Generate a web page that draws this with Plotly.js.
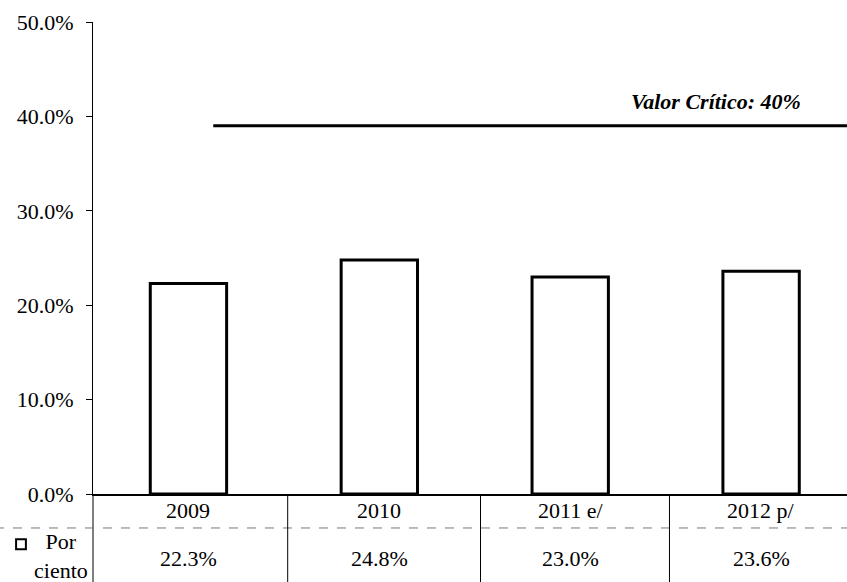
<!DOCTYPE html>
<html><head><meta charset="utf-8">
<script src="https://cdn.plot.ly/plotly-3.0.1.min.js"></script>
<style>html,body{margin:0;padding:0;background:#fff}#chart{width:847px;height:582px}</style>
</head><body><div id="chart"></div>
<script>
const categories = ["2009", "2010", "2011 e/", "2012 p/"];
const values = [22.3, 24.8, 23.0, 23.6];
const criticalValue = [39.0, 39.0];
const criticalLabel = "Valor Crítico: 40%";
const seriesName = "Por<br>ciento";
const yTickVals = [0, 10, 20, 30, 40, 50];
const yTickText = ["0.0%", "10.0%", "20.0%", "30.0%", "40.0%", "50.0%"];

const FONT = "Liberation Serif, Times New Roman, serif";
const idx = categories.map((c, i) => i);

const traces = [
  {
    type: "bar", x: idx, y: values, width: 0.4,
    marker: {color: "#ffffff", line: {color: "#000", width: 3}},
    hoverinfo: "skip", showlegend: false
  },
  {
    type: "scatter", mode: "lines", x: [0.13, 3.6], y: criticalValue,
    line: {color: "#000", width: 3}, hoverinfo: "skip", showlegend: false
  }
];

const annotations = [];
categories.forEach((c, i) => {
  annotations.push({xref: "x", yref: "paper", x: i, y: -0.036, text: c, showarrow: false,
    font: {family: FONT, size: 22, color: "#000"}, xanchor: "center", yanchor: "middle"});
  annotations.push({xref: "x", yref: "paper", x: i, y: -0.136, text: values[i].toFixed(1) + "%", showarrow: false,
    font: {family: FONT, size: 22, color: "#000"}, xanchor: "center", yanchor: "middle"});
});
annotations.push({xref: "paper", yref: "paper", x: -0.043, y: -0.132, text: seriesName, showarrow: false,
  font: {family: FONT, size: 22, color: "#000"}, xanchor: "center", yanchor: "middle", align: "center"});
annotations.push({xref: "paper", yref: "y", x: 0.942, y: 41.6, text: "<b><i>" + criticalLabel + "</i></b>", showarrow: false,
  font: {family: FONT, size: 22, color: "#000"}, xanchor: "right", yanchor: "middle"});

const shapes = [
  {type: "line", xref: "paper", yref: "paper", x0: 0, x1: 0, y0: 0, y1: -0.2, line: {color: "#000", width: 1}},
  {type: "line", xref: "paper", yref: "paper", x0: -0.13, x1: 1, y0: -0.072, y1: -0.072, line: {color: "#777", width: 1, dash: "dash"}},
  {type: "rect", xref: "paper", yref: "paper", x0: -0.102, x1: -0.089, y0: -0.096, y1: -0.117, line: {color: "#000", width: 2}, fillcolor: "#fff"}
];
[0.52, 1.53, 2.52].forEach(v => shapes.push({type: "line", xref: "x", yref: "paper", x0: v, x1: v, y0: 0, y1: -0.2, line: {color: "#000", width: 1}}));

const layout = {
  width: 847, height: 582,
  margin: {l: 93, r: 0, t: 22, b: 88},
  paper_bgcolor: "#fff", plot_bgcolor: "#fff",
  showlegend: false,
  xaxis: {range: [-0.5, 3.45], showticklabels: false, ticks: "", showgrid: false, zeroline: false,
    showline: true, linecolor: "#000", linewidth: 1.5, fixedrange: true},
  yaxis: {range: [0, 50], tickvals: yTickVals, ticktext: yTickText, ticks: "outside", ticklen: 6, tickcolor: "#000",
    showgrid: false, zeroline: false, showline: true, linecolor: "#000", linewidth: 1,
    tickfont: {family: FONT, size: 22, color: "#000"}, ticklabelstandoff: 8, fixedrange: true},
  annotations: annotations, shapes: shapes
};

Plotly.newPlot("chart", traces, layout, {displayModeBar: false, staticPlot: true});
</script></body></html>
